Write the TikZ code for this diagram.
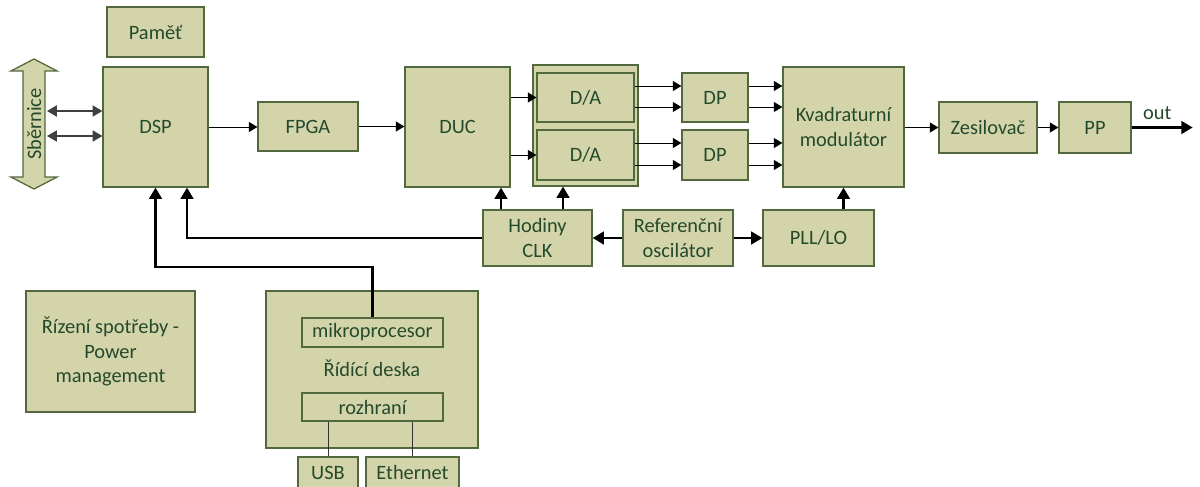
\documentclass[tikz,border=0pt]{standalone}
\usepackage{fontspec}
\setmainfont{Carlito}
\usetikzlibrary{arrows.meta,shapes.arrows}

\definecolor{blokfill}{RGB}{212,212,170}
\definecolor{blokline}{RGB}{82,104,62}
\definecolor{bloktext}{RGB}{36,74,44}

\tikzset{
	blok/.style={draw=blokline, fill=blokfill, line width=0.9pt, inner sep=0pt,
		text=bloktext, align=center, font=\fontsize{14.5}{17.5}\selectfont},
	rozmer/.style 2 args={minimum width=#1*0.025cm, minimum height=#2*0.025cm},
	popis/.style={text=bloktext, font=\fontsize{14.5}{17.5}\selectfont},
	tenka/.style={-{Triangle[length=6pt,width=7pt]}, line width=0.7pt},
	obe/.style={{Triangle[length=7pt,width=8pt]}-{Triangle[length=7pt,width=8pt]}, line width=0.8pt, draw=black!75},
	tlusta/.style={-{Triangle[length=8pt,width=9pt]}, line width=1.8pt},
	spoj/.style={line width=0.6pt, draw=black!80},
}

\begin{document}
\begin{tikzpicture}[x=0.025cm, y=-0.025cm]
	\useasboundingbox (0,0) rectangle (1200,486);

	% sbernice
	\node[draw=blokline, fill=blokfill, line width=0.9pt, double arrow, rotate=90,
		minimum height=3.25cm, minimum width=1.15cm, inner sep=1.5pt,
		double arrow head extend=0.275cm, double arrow tip angle=125,
		text=bloktext, font=\fontsize{14.5}{17.5}\selectfont] (sb) at (34,124) {Sběrnice};
	\coordinate (sb1) at (47,111);
	\coordinate (sb2) at (47,136);

	% horni rada
	\node[blok, rozmer={97}{50}] (pamet) at (155.5,32) {Paměť};
	\node[blok, rozmer={105}{120}] (dsp) at (155.5,127) {DSP};
	\node[blok, rozmer={100}{49}] (fpga) at (308,126.5) {FPGA};
	\node[blok, rozmer={105}{120}] (duc) at (457.5,127) {DUC};
	\node[blok, rozmer={105}{121}] (dablok) at (585.5,125.5) {};
	\node[blok, rozmer={97}{49}] (da1) at (585.5,97.5) {D/A};
	\node[blok, rozmer={97}{50}] (da2) at (585.5,155) {D/A};
	\node[blok, rozmer={66}{49}] (dp1) at (715,97.5) {DP};
	\node[blok, rozmer={66}{50}] (dp2) at (715,155) {DP};
	\node[blok, rozmer={121}{120}] (kvad) at (843.5,127) {Kvadraturní\\modulátor};
	\node[blok, rozmer={98}{51}] (zes) at (988,127.5) {Zesilovač};
	\node[blok, rozmer={72}{51}] (pp) at (1095,127.5) {PP};

	% hodiny a oscilator
	\node[blok, rozmer={109}{56}] (hod) at (537.5,238) {Hodiny\\CLK};
	\node[blok, rozmer={110}{56}] (ref) at (678,238) {Referenční\\oscilátor};
	\node[blok, rozmer={111}{56}] (pll) at (818.5,238) {PLL/LO};

	% spodni cast
	\node[blok, rozmer={169}{121}] (rizeni) at (110.5,351.5) {Řízení spotřeby -\\Power\\management};
	\node[blok, rozmer={212}{157}] (deska) at (372,369.5) {};
	\node[blok, rozmer={141}{29}] (mp) at (372.5,332.5) {mikroprocesor};
	\node[popis] (deskapopis) at (372,368) {Řídící deska};
	\node[blok, rozmer={141}{28}] (roz) at (372.5,407) {rozhraní};
	\node[blok, rozmer={60}{31}] (usb) at (328,472.5) {USB};
	\node[blok, rozmer={93}{31}] (eth) at (412.5,472.5) {Ethernet};

	% signalova cesta
	\draw[obe] (sb1) -- (sb1 -| dsp.west);
	\draw[obe] (sb2) -- (sb2 -| dsp.west);
	\draw[tenka] (dsp.east) -- (dsp.east -| fpga.west);
	\draw[tenka] (fpga.east) -- (fpga.east -| duc.west);
	\draw[tenka] (duc.east |- da1) -- (da1.west);
	\draw[tenka] (duc.east |- da2) -- (da2.west);
	\foreach \y in {86,107} {
		\draw[tenka] (da1.east |- 0,\y) -- (dp1.west |- 0,\y);
		\draw[tenka] (dp1.east |- 0,\y) -- (kvad.west |- 0,\y);
	}
	\foreach \y in {143,165} {
		\draw[tenka] (da2.east |- 0,\y) -- (dp2.west |- 0,\y);
		\draw[tenka] (dp2.east |- 0,\y) -- (kvad.west |- 0,\y);
	}
	\draw[tenka] (kvad.east |- zes) -- (zes.west);
	\draw[tenka] (zes) -- (pp);
	\draw[tlusta] (pp.east) -- ++(61,0) coordinate (vystup)
		node[popis, pos=0.42, above=1pt] (outpopis) {out};

	% hodinove signaly
	\draw[tlusta] (ref.west) -- (hod.east);
	\draw[tlusta] (ref.east) -- (pll.west);
	\draw[tlusta] (pll.north -| kvad.south) -- (kvad.south);
	\draw[tlusta] (hod.north -| 501,0) -- (duc.south -| 501,0);
	\draw[tlusta] (hod.north -| 563,0) -- (dablok.south -| 563,0);
	\draw[tlusta] (hod.west) -| (dsp.south -| 187,0);
	\draw[tlusta] (mp.north) |- (dsp.south |- 0,267) -- (dsp.south);

	% rozhrani
	\draw[spoj] (usb.north |- roz.south) -- (usb.north);
	\draw[spoj] (eth.north |- roz.south) -- (eth.north);
\end{tikzpicture}
\end{document}
